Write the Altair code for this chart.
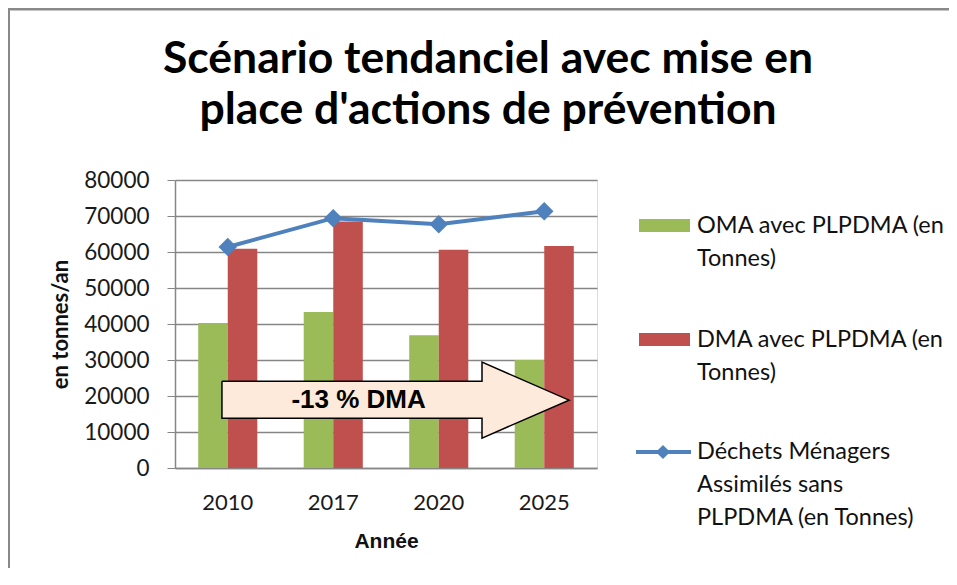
import altair as alt
import pandas as pd

# ---- data ----
years = ["2010", "2017", "2020", "2025"]
oma_avec = [40300, 43300, 36900, 30000]
dma_avec = [60900, 68500, 60600, 61700]
dma_sans = [61400, 69400, 67700, 71300]

series_names = ["OMA avec PLPDMA (en Tonnes)", "DMA avec PLPDMA (en Tonnes)"]
legend_labels = [
    "OMA avec PLPDMA (en\nTonnes)",
    "DMA avec PLPDMA (en\nTonnes)",
    "Déchets Ménagers\nAssimilés sans\nPLPDMA (en Tonnes)",
]
title_lines = ["Scénario tendanciel avec mise en", "place d'actions de prévention"]

# annotation arrow outline (x in category units, y in tonnes), closed polygon
arrow_x = [0.445, 2.91, 2.91, 3.735, 2.91, 2.91, 0.445, 0.445]
arrow_y = [24100, 24100, 29400, 18850, 8300, 13850, 13850, 24100]
arrow_label = "-13 % DMA"
arrow_label_x = 1.74
arrow_label_y = 18950

GREEN = "#9BBB59"
RED = "#C0504D"
BLUE = "#4F81BD"
GRID = "#868686"

bars_df = pd.DataFrame({
    "Année": years * 2,
    "serie": [series_names[0]] * 4 + [series_names[1]] * 4,
    "valeur": oma_avec + dma_avec,
})
line_df = pd.DataFrame({"Année": years, "valeur": dma_sans})
arrow_df = pd.DataFrame({"x": arrow_x, "valeur": arrow_y, "ordre": list(range(len(arrow_x)))})

x_enc = alt.X(
    "Année:N",
    sort=years,
    title="Année",
    scale=alt.Scale(paddingInner=0.44, paddingOuter=0.22),
    axis=alt.Axis(
        labelAngle=0, ticks=False, labelPadding=24, labelFontSize=22,
        labelFont="Lato", labelColor="#1a1a1a",
        titleFont="Liberation Sans", titleFontSize=21, titleFontWeight="bold",
        titlePadding=17, titleColor="#111111",
        domainColor=GRID, domainWidth=1.5, grid=False,
    ),
)
y_scale = alt.Scale(domain=[0, 80000], nice=False)
y_axis = alt.Axis(
    values=list(range(0, 80001, 10000)), format="d", labelOverlap=False,
    labelFontSize=22.5, labelFont="Lato", labelColor="#1a1a1a",
    labelPadding=18, tickSize=8, tickColor=GRID,
    domainColor=GRID, domainWidth=1.5, gridColor=GRID, gridWidth=1.3,
    titleFont="Lato", titleFontSize=22, titleFontWeight="bold",
    titleColor="#111111", titlePadding=11,
)

def y_enc():
    return alt.Y("valeur:Q", scale=y_scale, title="en tonnes/an", axis=y_axis)

bars = alt.Chart(bars_df).mark_bar().encode(
    x=x_enc,
    xOffset=alt.XOffset("serie:N", sort=series_names),
    y=y_enc(),
    color=alt.Color("serie:N", scale=alt.Scale(domain=series_names, range=[GREEN, RED]), legend=None),
)
line = alt.Chart(line_df).mark_line(color=BLUE, strokeWidth=4).encode(
    x=alt.X("Année:N", sort=years), y=y_enc(),
)
points = alt.Chart(line_df).mark_point(
    shape="diamond", filled=True, color=BLUE, size=340, opacity=1
).encode(
    x=alt.X("Année:N", sort=years), y=y_enc(),
)
main = alt.layer(bars, line, points)

xq_scale = alt.Scale(domain=[0, 4], nice=False, zero=False)
arrow = alt.Chart(arrow_df).mark_line(
    fill="#FDEADA", stroke="#000000", strokeWidth=1.5, interpolate="linear"
).encode(
    x=alt.X("x:Q", scale=xq_scale, axis=None),
    y=y_enc(),
    order="ordre:Q",
)
arrow_text = alt.Chart(pd.DataFrame({"x": [arrow_label_x], "valeur": [arrow_label_y], "t": [arrow_label]})).mark_text(
    font="Liberation Sans", fontSize=26, fontWeight="bold", color="#000000",
    align="center", baseline="middle",
).encode(
    x=alt.X("x:Q", scale=xq_scale, axis=None),
    y=y_enc(),
    text="t:N",
)
annot = alt.layer(arrow, arrow_text)

# ---- manual legend (right of plot) ----
one = pd.DataFrame({"k": [0]})
leg_sym1 = alt.Chart(one).mark_rect(color=GREEN).encode(
    x=alt.value(464), x2=alt.value(515), y=alt.value(39), y2=alt.value(52))
leg_sym2 = alt.Chart(one).mark_rect(color=RED).encode(
    x=alt.value(464), x2=alt.value(515), y=alt.value(153), y2=alt.value(166))
leg_line = alt.Chart(one).mark_rule(color=BLUE, strokeWidth=4).encode(
    x=alt.value(461), x2=alt.value(516), y=alt.value(272))
leg_pt = alt.Chart(one).mark_point(shape="diamond", filled=True, color=BLUE, size=200, opacity=1).encode(
    x=alt.value(488), y=alt.value(272))

def leg_text(label, y):
    return alt.Chart(pd.DataFrame({"t": [label]})).mark_text(
        font="Lato", fontSize=23.5, color="#111111", align="left", baseline="middle",
        lineBreak="\n", lineHeight=33,
    ).encode(x=alt.value(522), y=alt.value(y), text="t:N")

leg_t1 = leg_text(legend_labels[0], 46)
leg_t2 = leg_text(legend_labels[1], 160)
leg_t3 = leg_text(legend_labels[2], 272)

def title_text(label, y):
    return alt.Chart(pd.DataFrame({"t": [label]})).mark_text(
        font="Lato", fontSize=44.5, fontWeight="bold", color="#000000",
        align="center", baseline="alphabetic",
    ).encode(x=alt.value(313), y=alt.value(y), text="t:N")

ttl1 = title_text(title_lines[0], -107)
ttl2 = title_text(title_lines[1], -56)

# chart frame: only top and left edges are visible in the reference
frame_left = alt.Chart(one).mark_rule(color="#898989", strokeWidth=3).encode(
    x=alt.value(-166.5), y=alt.value(-172.5), y2=alt.value(420))
frame_top = alt.Chart(one).mark_rule(color="#898989", strokeWidth=3).encode(
    x=alt.value(-168), x2=alt.value(780), y=alt.value(-171))

chart = alt.layer(
    frame_left, frame_top, main, annot,
    leg_sym1, leg_sym2, leg_line, leg_pt, leg_t1, leg_t2, leg_t3, ttl1, ttl2,
).resolve_scale(x="independent").properties(
    width=422,
    height=288,
    autosize="none",
    padding={"left": 167, "top": 172, "right": 352, "bottom": 100},
).configure_view(strokeWidth=0).configure(background="white")

chart.save("out.html", embed_options={"renderer": "svg", "actions": False})
